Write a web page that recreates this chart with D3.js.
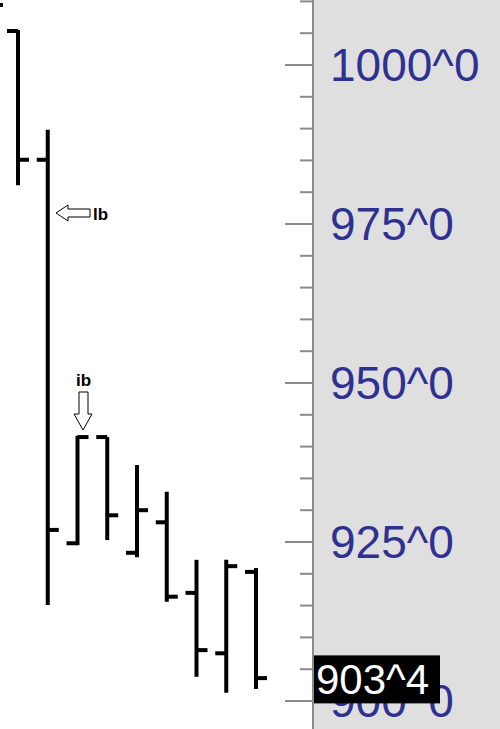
<!DOCTYPE html>
<html><head><meta charset="utf-8">
<script src="https://cdn.jsdelivr.net/npm/d3@7"></script>
<style>body{margin:0;background:#fff}</style>
</head><body><div id="chart"></div>
<script>
// bar slots, left to right
const slots = [0, 1, 2, 3, 4, 5, 6, 7, 8];
const highs = [1005.5, 989.8, 941.7, 941.5, 937.1, 932.9, 922.2, 922.2, 920.9];
const lows = [981.1, 915.1, 924.5, 925.3, 922.6, 915.6, 903.8, 901.3, 901.9];
const opens = [1005.35, 985.1, 924.8, 941.5, 923.3, 928.1, 917.0, 907.5, 920.3];
const closes = [985.1, 926.9, 941.5, 929.2, 930.0, 916.4, 908.0, 921.2, 903.6];
const tickValues = [1010, 1005, 1000, 995, 990, 985, 980, 975, 970, 965, 960, 955, 950, 945, 940, 935, 930, 925, 920, 915, 910, 905, 900, 895];
const majorTicks = [1000, 975, 950, 925, 900];
const lastPrice = 903.4;

const W = 500, H = 729, axisX = 313;
const svg = d3.select("#chart").append("svg").attr("width", W).attr("height", H);

const y = d3.scaleLinear().domain([1000, 900]).range([65, 701]);
const x = d3.scaleLinear().domain([0, 8]).range([18, 256]);

// price axis panel
svg.append("rect").attr("x", axisX).attr("y", 0).attr("width", W - axisX).attr("height", H).attr("fill", "#dfdfdf");
svg.append("line").attr("x1", axisX).attr("x2", axisX).attr("y1", 0).attr("y2", H)
    .attr("stroke", "#8a8a8a").attr("stroke-width", 2);

svg.selectAll(".tick").data(tickValues).enter().append("line")
    .attr("x1", d => majorTicks.includes(d) ? 285 : 300)
    .attr("x2", axisX)
    .attr("y1", d => y(d)).attr("y2", d => y(d))
    .attr("stroke", "#8a8a8a").attr("stroke-width", 2);

svg.selectAll(".lbl").data(majorTicks).enter().append("text")
    .attr("x", 330).attr("y", d => y(d) + 16)
    .attr("font-family", "Liberation Sans, Arial, sans-serif").attr("font-size", 46)
    .attr("fill", "#2e3192")
    .text(d => d + "^0");

// last price marker
svg.append("rect").attr("x", axisX + 1).attr("y", y(lastPrice) - 24).attr("width", 126).attr("height", 48).attr("fill", "#000");
svg.append("text").attr("x", 316).attr("y", y(lastPrice) + 15)
    .attr("font-family", "Liberation Sans, Arial, sans-serif").attr("font-size", 42)
    .attr("fill", "#fff").text(lastPrice.toFixed(1).replace(".", "^"));

// OHLC bars
const g = svg.append("g").attr("stroke", "#000").attr("stroke-width", 4);
slots.forEach(i => {
    const cx = x(i);
    g.append("line").attr("x1", cx).attr("x2", cx).attr("y1", y(highs[i])).attr("y2", y(lows[i]));
    g.append("line").attr("x1", cx - 11).attr("x2", cx).attr("y1", y(opens[i])).attr("y2", y(opens[i]));
    g.append("line").attr("x1", cx).attr("x2", cx + 11).attr("y1", y(closes[i])).attr("y2", y(closes[i]));
});
svg.append("rect").attr("x", 0).attr("y", 3).attr("width", 3).attr("height", 4).attr("fill", "#000");

// annotations
svg.append("path")
    .attr("d", "M56,213 L68,205 L68,209 L90,209 L90,217 L68,217 L68,221 Z")
    .attr("fill", "#fff").attr("stroke", "#000").attr("stroke-width", 1);
svg.append("text").attr("x", 93).attr("y", 220).attr("font-family", "Liberation Sans, Arial, sans-serif")
    .attr("font-size", 17).attr("font-weight", "bold").text("lb");
svg.append("path")
    .attr("d", "M79,392 L88,392 L88,414 L92,414 L83,430 L74,414 L79,414 Z")
    .attr("fill", "#fff").attr("stroke", "#000").attr("stroke-width", 1);
svg.append("text").attr("x", 76).attr("y", 386).attr("font-family", "Liberation Sans, Arial, sans-serif")
    .attr("font-size", 17).attr("font-weight", "bold").text("ib");
</script></body></html>
